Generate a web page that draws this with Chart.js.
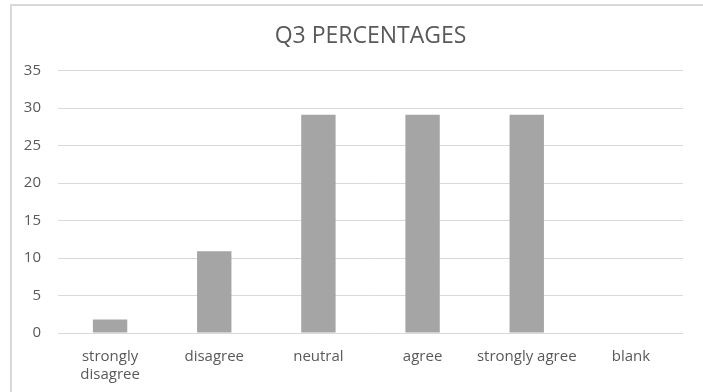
<!DOCTYPE html>
<html>
<head>
<meta charset="utf-8">
<script src="https://cdn.jsdelivr.net/npm/chart.js@4.4.0/dist/chart.umd.min.js"></script>
<style>
  html, body { margin: 0; padding: 0; background: #fff; }
  #frame {
    position: absolute; left: 10px; top: 4px; width: 693px; height: 388px;
    border-top: 2px solid #d9d9d9; border-left: 2px solid #d9d9d9;
    box-sizing: border-box;
  }
  #wrap { position: absolute; left: 0; top: 0; width: 703px; height: 392px; }
</style>
</head>
<body>
<div id="frame"></div>
<div id="wrap"><canvas id="grafico" width="703" height="392"></canvas></div>
<script>
// Dados do gráfico
const categorias = [['strongly', 'disagree'], 'disagree', 'neutral', 'agree', 'strongly agree', 'blank'];
const percentuais = [1.8, 10.9, 29.1, 29.1, 29.1, 0];
const titulo = 'Q3 PERCENTAGES';

const corTexto = '#595959';
const fonte = "'Open Sans', sans-serif";

const ctx = document.getElementById('grafico').getContext('2d');
new Chart(ctx, {
    type: 'bar',
    data: {
        labels: categorias,
        datasets: [{
            label: 'Q3',
            data: percentuais,
            backgroundColor: '#a5a5a5',
            categoryPercentage: 1,
            barPercentage: 0.33
        }]
    },
    options: {
        responsive: false,
        animation: false,
        layout: { padding: { left: 0, right: 20, top: 0, bottom: 0 } },
        plugins: {
            legend: { display: false },
            tooltip: { enabled: false },
            title: {
                display: true,
                fullSize: false,
                text: titulo,
                color: corTexto,
                font: { family: fonte, size: 23, weight: 'normal', lineHeight: 1.2 },
                padding: { top: 23, bottom: 20 }
            }
        },
        scales: {
            x: {
                grid: { display: false, drawTicks: false },
                border: { display: false },
                ticks: {
                    color: corTexto,
                    font: { family: fonte, size: 15, lineHeight: 1.2 },
                    padding: 15,
                    maxRotation: 0,
                    autoSkip: false
                },
                afterFit: (scale) => { scale.height = 59; }
            },
            y: {
                min: 0,
                max: 35,
                ticks: {
                    stepSize: 5,
                    color: corTexto,
                    font: { family: fonte, size: 15 },
                    padding: 17
                },
                grid: { color: '#d9d9d9', drawTicks: false, lineWidth: 1 },
                border: { display: false },
                afterFit: (scale) => { scale.width = 58; }
            }
        }
    }
});
</script>
</body>
</html>
